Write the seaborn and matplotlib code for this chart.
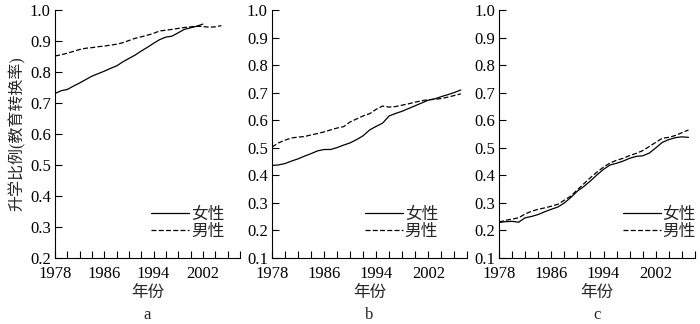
import numpy as np
import pandas as pd
import matplotlib
matplotlib.use('Agg')
import matplotlib.pyplot as plt
from matplotlib.lines import Line2D
import seaborn as sns

# panel a
years_a_f = list(range(1978, 2003))
a_female = [0.731, 0.740, 0.744, 0.755, 0.765, 0.776, 0.787, 0.795, 0.803, 0.812,
            0.820, 0.833, 0.844, 0.855, 0.868, 0.880, 0.893, 0.905, 0.913, 0.916,
            0.927, 0.938, 0.943, 0.948, 0.955]
years_a_m = list(range(1978, 2006))
a_male = [0.852, 0.856, 0.861, 0.867, 0.873, 0.877, 0.879, 0.882, 0.884, 0.887,
          0.890, 0.895, 0.902, 0.909, 0.914, 0.919, 0.925, 0.933, 0.935, 0.938,
          0.941, 0.944, 0.946, 0.948, 0.947, 0.945, 0.946, 0.950]

# panel b
years_bc = list(range(1978, 2008))
b_female = [0.436, 0.438, 0.443, 0.452, 0.460, 0.470, 0.479, 0.489, 0.494, 0.494,
            0.501, 0.510, 0.518, 0.530, 0.544, 0.565, 0.578, 0.590, 0.616, 0.625,
            0.633, 0.643, 0.653, 0.663, 0.673, 0.678, 0.686, 0.693, 0.701, 0.710]
b_male = [0.503, 0.518, 0.528, 0.536, 0.539, 0.541, 0.547, 0.552, 0.558, 0.565,
          0.572, 0.577, 0.594, 0.605, 0.616, 0.624, 0.640, 0.652, 0.648, 0.650,
          0.655, 0.660, 0.666, 0.671, 0.675, 0.676, 0.679, 0.684, 0.690, 0.696]

# panel c
c_female = [0.229, 0.232, 0.233, 0.230, 0.246, 0.251, 0.258, 0.268, 0.277, 0.285,
            0.300, 0.320, 0.343, 0.360, 0.380, 0.402, 0.422, 0.438, 0.444, 0.452,
            0.462, 0.469, 0.471, 0.481, 0.500, 0.520, 0.530, 0.537, 0.540, 0.538]
c_male = [0.230, 0.237, 0.241, 0.246, 0.260, 0.270, 0.277, 0.282, 0.288, 0.295,
          0.310, 0.325, 0.348, 0.370, 0.392, 0.412, 0.430, 0.445, 0.455, 0.462,
          0.472, 0.480, 0.490, 0.505, 0.520, 0.535, 0.538, 0.545, 0.555, 0.565]

sns.set_style('ticks')
plt.rcParams['font.family'] = ['Liberation Serif', 'Noto Sans CJK SC']
plt.rcParams['font.size'] = 12

# name, female years, female, male years, male, y min, axes box, legend anchor x
panels = [
    ('a', years_a_f, a_female, years_a_m, a_male, 0.2, [0.0786, 0.2037, 0.264, 0.765], 0.52),
    ('b', years_bc, b_female, years_bc, b_male, 0.1, [0.3886, 0.2037, 0.279, 0.765], 0.475),
    ('c', years_bc, c_female, years_bc, c_male, 0.1, [0.7129, 0.2037, 0.280, 0.765], 0.63),
]

fig = plt.figure(figsize=(7, 3.24), dpi=100)

for name, yf, vf, ym, vm, ymin, pos, lx in panels:
    ax = fig.add_axes(pos)
    df = pd.concat([
        pd.DataFrame({'year': yf, 'rate': vf, 'sex': '女性'}),
        pd.DataFrame({'year': ym, 'rate': vm, 'sex': '男性'}),
    ])
    sns.lineplot(data=df, x='year', y='rate', style='sex', color='black',
                 dashes={'女性': '', '男性': (4, 1.8)}, linewidth=0.9, ax=ax)
    ax.set_xlim(1978, 2008)
    ax.set_ylim(ymin, 1.0)
    ax.set_xticks([1978, 1986, 1994, 2002])
    ax.set_xticks(np.arange(1978, 2009, 2), minor=True)
    ax.set_yticks(np.round(np.arange(ymin, 1.01, 0.1), 1))
    ax.yaxis.set_major_formatter(matplotlib.ticker.FormatStrFormatter('%.1f'))
    ax.tick_params(which='both', direction='in', length=5, width=0.8, colors='black',
                   labelsize=12)
    ax.tick_params(axis='x', pad=6)
    ax.tick_params(axis='y', pad=3)
    for s in ['top', 'right']:
        ax.spines[s].set_visible(False)
    for s in ['left', 'bottom']:
        ax.spines[s].set_linewidth(0.8)
        ax.spines[s].set_color('black')
    ax.set_xlabel('年份', fontsize=12, labelpad=2)
    if name == 'a':
        ax.set_ylabel('升学比例(教育转换率)', fontsize=11.5, labelpad=3)
    else:
        ax.set_ylabel('')
    ax.text(0.5, -0.23, name, transform=ax.transAxes, ha='center', va='center', fontsize=12)
    handles = [Line2D([], [], color='black', lw=0.9, ls='-'),
               Line2D([], [], color='black', lw=0.9, ls=(0, (4, 1.8)))]
    ax.legend(handles, ['女性', '男性'], loc='center left', bbox_to_anchor=(lx, 0.14),
              frameon=False, fontsize=12, handlelength=2.3, handletextpad=0.1,
              labelspacing=0.1, borderaxespad=0, borderpad=0)

fig.savefig('out.png', dpi=100)
